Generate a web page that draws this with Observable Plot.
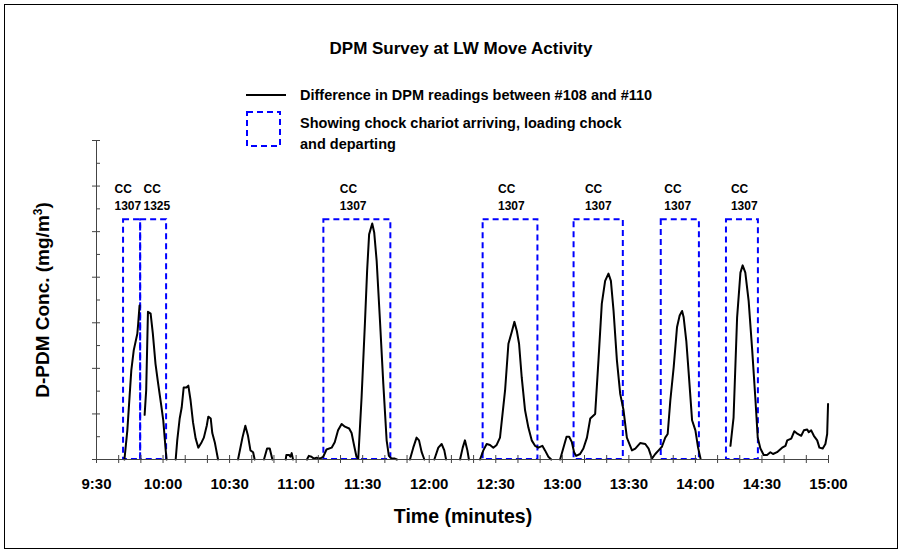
<!DOCTYPE html>
<html><head><meta charset="utf-8">
<script src="https://cdn.jsdelivr.net/npm/d3@7"></script>
<script src="https://cdn.jsdelivr.net/npm/@observablehq/plot@0.6"></script>
<style>
body{margin:0;background:#fff;font-family:"Liberation Sans",Arial,Helvetica,sans-serif;font-weight:bold;}
#wrap{position:relative;width:903px;height:553px;overflow:hidden;background:#fff;}
#border{position:absolute;left:4px;top:4px;width:892px;height:543px;border:1px solid #000;pointer-events:none;}
#chart{position:absolute;left:0;top:0;}
.t{position:absolute;white-space:nowrap;color:#000;line-height:1;}
</style></head><body>
<div id="wrap">
<div id="chart"></div>
<div id="border"></div>
<div class="t" id="title" style="left:461px;top:48px;font-size:17px;transform:translate(-50%,-50%);">DPM Survey at LW Move Activity</div>
<svg id="legend" width="903" height="160" style="position:absolute;left:0;top:0;overflow:visible">
  <line x1="246" x2="286" y1="95" y2="95" stroke="#000" stroke-width="2"/>
  <rect x="247" y="112" width="33" height="34" fill="none" stroke="#0000ff" stroke-width="2" stroke-dasharray="6,4"/>
  <g font-family="Liberation Sans, Arial, sans-serif" font-weight="bold" font-size="14.5" dominant-baseline="central">
    <text x="300" y="95">Difference in DPM readings between #108 and #110</text>
    <text x="300" y="123">Showing chock chariot arriving, loading chock</text>
    <text x="300" y="144">and departing</text>
  </g>
</svg>
<div class="t" id="ytitle" style="left:42px;top:300px;font-size:19px;transform:translate(-50%,-50%) rotate(-90deg);">D-PDM Conc. (mg/m<sup style="font-size:12px;vertical-align:7px;line-height:0">3</sup>)</div>
<div class="t" id="xtitle" style="left:463px;top:517px;font-size:19.5px;transform:translate(-50%,-50%);">Time (minutes)</div>
</div>
<script>
// Minutes after 9:30 and the DPM difference (null = break in the trace)
const minutes = [
  12.6,13.9,15.7,16.8,18.4,18.8,19.4,null,
  21.7,22.4,23.2,24.4,25.4,26.6,27.7,29.2,30.1,31.2,31.6,null,
  35.7,36.4,37.5,38.4,39.3,40.5,41.4,42.4,43.5,44.7,45.9,47.4,48.4,49.7,50.4,51.5,52.2,53.4,54.8,null,
  63.8,65.8,67.1,68.3,69.4,70.6,71.3,null,
  75.5,76.9,78.1,79.3,null,
  85.3,85.6,86.8,87.4,88.0,88.6,null,
  94.9,95.7,96.9,98.0,99.2,100.7,102.2,103.7,106.0,107.4,108.9,110.5,112.0,113.9,115.0,116.0,117.2,118.0,119.5,121.0,122.0,122.9,124.3,125.2,126.3,127.8,129.3,130.8,131.8,133.0,134.5,135.4,null,
  141.3,142.8,144.3,145.4,146.6,147.8,null,
  152.3,154.1,155.6,156.8,157.6,null,
  163.9,165.1,166.1,167.2,167.9,null,
  172.9,174.4,175.9,177.4,178.9,180.4,181.9,184.2,185.7,187.2,188.4,189.5,190.5,191.7,193.2,194.7,196.2,197.7,199.2,201.0,202.2,203.7,205.0,null,
  209.0,210.5,211.9,213.1,214.3,215.3,216.2,218.0,219.5,221.1,222.6,224.8,226.3,227.8,229.3,230.8,231.9,233.1,234.6,236.1,237.6,239.1,241.4,242.9,245.1,247.4,248.9,250.4,251.9,253.4,254.9,256.4,257.5,258.7,260.2,261.7,262.9,264.0,264.7,265.9,267.0,268.5,270.0,271.2,272.3,null,
  285.8,287.2,288.8,290.3,291.3,292.5,294.0,295.6,297.0,298.1,299.3,300.8,302.3,303.8,305.0,306.8,309.1,310.6,311.4,313.2,314.6,316.1,317.7,318.9,320.4,321.1,322.2,323.4,324.9,325.9,327.4,328.6,329.4,329.8
];
const dpmDiff = [
  0,0.032,0.098,0.120,0.138,0.149,0.169,null,
  0.049,0.076,0.162,0.160,0.138,0.105,0.085,0.059,0.043,0.010,0,null,
  0,0.021,0.045,0.057,0.079,0.079,0.081,0.065,0.041,0.023,0.013,0.019,0.024,0.037,0.047,0.045,0.029,0.018,0,null,
  0,0.024,0.037,0.026,0.010,0.008,0,null,
  0,0.012,0.012,0,null,
  0,0.005,0.005,0.003,0.007,0,null,
  0,0.004,0.003,0.001,0.002,0.001,0.003,0.011,0.013,0.019,0.032,0.039,0.036,0.034,0.029,0.017,0.003,0.001,0.068,0.149,0.207,0.247,0.259,0.249,0.218,0.152,0.083,0.021,0.004,0.001,0.001,0,null,
  0,0.013,0.024,0.021,0.008,0,null,
  0,0.013,0.017,0.010,0,null,
  0,0.013,0.021,0.010,0,null,
  0,0.010,0.017,0.016,0.013,0.016,0.024,0.076,0.127,0.140,0.151,0.141,0.127,0.090,0.054,0.035,0.021,0.015,0.013,0.015,0.010,0.003,0,null,
  0,0.013,0.025,0.025,0.019,0.008,0.004,0.006,0.012,0.024,0.045,0.050,0.109,0.171,0.196,0.204,0.196,0.163,0.109,0.072,0.054,0.024,0.010,0.012,0.018,0.017,0.012,0.001,0.006,0.010,0.014,0.024,0.028,0.065,0.101,0.145,0.158,0.163,0.156,0.130,0.094,0.043,0.032,0.013,0.001,null,
  0.015,0.046,0.156,0.205,0.213,0.205,0.174,0.120,0.068,0.024,0.012,0.005,0.005,0.008,0.006,0.008,0.013,0.015,0.021,0.023,0.031,0.028,0.026,0.032,0.033,0.030,0.032,0.026,0.021,0.013,0.012,0.017,0.028,0.061
];

// Chock chariot windows (minutes after 9:30)
const boxStart = [12.2, 19.9, 102.5, 174.3, 215.3, 254.6, 284.0];
const boxEnd   = [19.9, 31.6, 132.7, 199.0, 237.5, 271.8, 298.4];
const boxTop = 0.263;
const ccLabels = ["CC\n1307","CC\n1325","CC\n1307","CC\n1307","CC\n1307","CC\n1307","CC\n1307"];
const ccLabelMinutes = [8.1, 21.2, 109.7, 181.0, 220.2, 256.0, 286.0];

const xTickValues = d3.range(0, 331, 30);
const xTickLabels = ["9:30","10:00","10:30","11:00","11:30","12:00","12:30","13:00","13:30","14:00","14:30","15:00"];
const xMinorTicks = d3.range(0, 331, 10);
const yMajorTicks = d3.range(0, 0.3501, 0.05);
const yMinorTicks = d3.range(0.025, 0.35, 0.05);

const trace = minutes.map((t, i) => ({t, v: dpmDiff[i]}));
const boxes = boxStart.map((s, i) => ({s, e: boxEnd[i], top: boxTop}));
const labels = ccLabels.map((text, i) => ({text, x: ccLabelMinutes[i], y: boxTop}));

const chart = Plot.plot({
  width: 903, height: 553,
  marginLeft: 96, marginRight: 75, marginTop: 140, marginBottom: 94,
  x: {domain: [0, 330]},
  y: {domain: [0, 0.35]},
  style: {fontFamily: "Liberation Sans, Arial, sans-serif", fontWeight: "bold", background: "transparent", overflow: "visible"},
  marks: [
    Plot.rect(boxes, {x1: "s", x2: "e", y1: 0, y2: "top", stroke: "#0000ff", fill: "none", strokeWidth: 2, strokeDasharray: "6,4"}),
    Plot.line(trace, {x: "t", y: "v", stroke: "#000", strokeWidth: 2}),
    Plot.ruleY([0], {x1: 0, x2: 330, stroke: "#444"}),
    Plot.ruleX([0], {y1: 0, y2: 0.35, stroke: "#444"}),
    Plot.ruleX(xMinorTicks, {x: d => d, y1: 0, y2: 0, insetTop: -4, insetBottom: -4, stroke: "#444"}),
    Plot.ruleY(yMajorTicks, {y: d => d, x1: 0, x2: 0, insetLeft: -4, insetRight: -4, stroke: "#444"}),
    Plot.ruleY(yMinorTicks, {y: d => d, x1: 0, x2: 0, insetRight: -4, stroke: "#444"}),
    Plot.axisX({ticks: xTickValues, tickFormat: d => xTickLabels[Math.round(d / 30)], tickSize: 0, tickPadding: 19, fontSize: 15, label: null}),
    Plot.axisY({ticks: [], label: null}),
    Plot.text(labels, {x: "x", y: "y", text: "text", textAnchor: "start", lineAnchor: "bottom", lineHeight: 1.4, dy: -10, fontSize: 12, fill: "#000"})
  ]
});
document.getElementById("chart").appendChild(chart);
</script>
</body></html>
